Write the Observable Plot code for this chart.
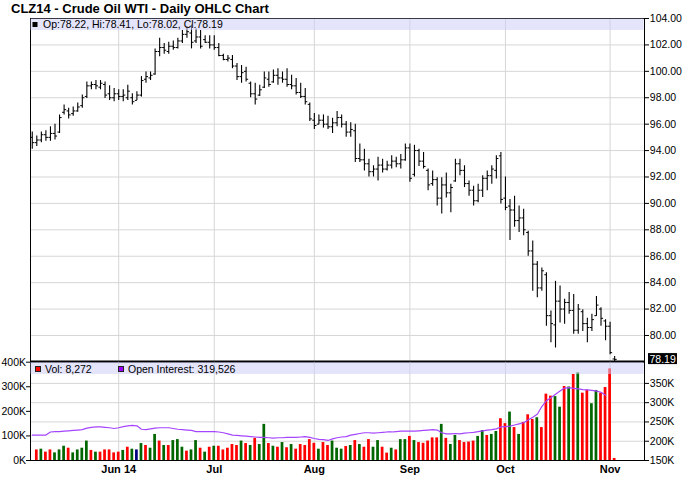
<!DOCTYPE html>
<html><head><meta charset="utf-8">
<script src="https://cdn.jsdelivr.net/npm/d3@7"></script>
<script src="https://cdn.jsdelivr.net/npm/@observablehq/plot@0.6"></script>
<style>
body{margin:0;background:#fff;}
#wrap{position:relative;width:688px;height:481px;overflow:hidden;font-family:"Liberation Sans",Arial,sans-serif;}
#wrap svg{position:absolute;left:0;top:0;}
</style></head><body><div id="wrap"></div>
<script>
// ---- data ----
const titleText = "CLZ14 - Crude Oil WTI - Daily OHLC Chart";
const monthIdx = [19, 40, 62, 83, 104, 127];
const monthLabels = ["Jun 14", "Jul", "Aug", "Sep", "Oct", "Nov"];
const priceTicks = [104, 102, 100, 98, 96, 94, 92, 90, 88, 86, 84, 82, 80];
const volTicks = [0, 100000, 200000, 300000, 400000];
const oiTicks = [150000, 200000, 250000, 300000, 350000];

const opens = [95.0,94.6,94.8,95.2,95.0,95.3,95.4,96.9,97.0,96.8,97.0,97.4,98.1,98.9,99.0,98.8,99.0,98.3,98.0,98.3,
98.1,98.0,98.0,97.8,98.2,99.4,99.5,99.8,101.5,101.8,101.5,101.9,101.8,102.3,102.8,102.9,102.3,102.6,102.4,102.2,
102.0,101.8,101.2,100.9,100.9,100.4,99.6,100.0,99.1,98.3,98.2,98.8,99.4,99.2,99.7,99.5,99.4,99.0,98.9,98.4,
98.1,97.5,96.3,96.0,96.3,96.0,95.8,96.1,96.5,96.0,95.4,95.5,93.4,93.3,93.0,92.4,92.6,92.9,92.6,92.9,
93.2,93.0,93.3,94.2,92.2,94.0,93.2,92.5,91.5,91.8,90.4,91.4,90.8,91.7,93.0,92.5,91.5,91.0,90.2,91.0,
91.9,92.1,92.5,93.6,90.4,89.8,89.5,88.7,88.9,87.8,86.4,85.4,83.6,84.6,81.5,80.8,82.6,82.0,82.5,81.9,
80.4,81.8,80.9,80.6,81.5,82.0,81.1,80.7,78.22];
const highs = [95.4,95.1,95.4,95.5,95.8,96.0,96.7,97.45,97.2,97.3,97.6,98.2,99.2,99.2,99.3,99.3,99.2,98.9,98.7,98.6,
98.6,98.95,98.3,98.45,99.6,99.95,99.95,101.7,102.5,102.1,102.2,102.3,102.5,103.1,103.4,103.5,103.2,103.1,102.7,102.7,
102.7,102.1,101.3,101.2,101.2,100.6,100.45,100.3,99.2,99.1,98.95,99.95,99.95,100.1,100.2,99.95,100.2,99.7,99.45,99.1,
98.7,97.6,96.8,96.7,96.7,96.6,96.45,96.95,96.7,96.2,96.1,96.0,94.5,94.1,93.35,92.85,93.5,93.35,93.2,93.6,
93.5,93.7,94.5,94.5,94.4,94.1,93.85,92.6,92.45,91.95,91.95,92.3,91.45,93.35,93.35,92.85,91.7,91.3,91.45,92.1,
92.45,92.85,93.6,93.85,92.0,90.3,90.55,89.8,89.55,87.9,87.15,85.6,85.1,84.75,81.85,84.1,83.75,82.75,83.25,83.1,
82.35,81.95,81.3,81.6,82.95,82.1,81.2,81.0,78.41];
const lows = [94.1,94.3,94.6,94.7,94.7,94.8,95.3,96.7,96.4,96.6,96.9,97.2,97.95,98.6,98.6,98.6,97.95,97.8,97.7,97.8,
97.7,97.8,97.45,97.8,98.05,99.1,99.3,99.7,101.1,101.3,101.3,101.6,101.7,102.1,102.5,101.7,102.1,101.7,102.1,101.7,
101.6,101.1,100.8,100.7,100.2,99.3,99.1,99.2,98.0,97.45,98.1,98.7,98.8,99.1,98.95,99.1,98.8,98.6,98.2,97.95,
97.45,96.2,95.6,95.95,95.7,95.6,95.3,95.8,95.7,95.0,95.0,93.1,93.1,92.45,92.0,92.0,91.7,92.3,92.45,92.6,
92.7,92.6,93.2,91.6,92.0,92.8,92.6,90.95,91.3,89.8,89.2,90.4,89.3,91.6,92.1,91.2,90.55,89.8,90.05,90.45,
90.95,91.45,91.85,89.95,89.45,87.2,88.2,87.8,87.55,86.0,83.35,82.85,83.35,80.7,79.45,79.05,80.95,80.85,81.6,80.1,
80.1,80.3,79.45,80.3,81.45,80.7,79.6,78.55,78.02];
const closes = [94.6,94.8,95.2,95.0,95.3,95.1,96.5,97.1,96.7,97.0,97.3,98.0,98.9,99.0,98.9,99.1,98.2,98.0,98.3,98.1,
98.2,98.5,97.7,98.2,99.3,99.6,99.7,101.5,101.8,101.6,101.9,101.8,102.3,102.8,103.0,102.2,102.6,101.9,102.2,102.0,
101.8,101.2,100.9,101.0,100.4,99.6,99.9,99.4,98.3,97.9,98.6,99.5,99.0,99.7,99.5,99.4,99.0,98.9,98.4,98.1,
97.7,96.4,95.9,96.3,96.0,95.8,96.1,96.5,96.0,95.4,95.6,93.4,93.3,93.0,92.4,92.6,92.9,92.6,92.9,93.2,
93.0,93.3,94.2,91.9,94.0,93.2,92.8,91.4,91.8,90.4,91.4,90.8,91.2,93.0,92.5,91.5,91.0,90.2,91.0,91.9,
92.1,92.6,93.4,90.3,89.7,89.5,88.7,88.9,88.0,86.4,85.4,83.6,84.9,81.5,80.9,82.6,82.0,82.5,81.9,80.4,
82.0,80.9,80.6,81.2,82.3,81.3,80.7,78.7,78.19];
// daily volume, thousands of contracts (first day has no bar)
const volumesK = [null,43,46,34,43,31,43,58,50,31,43,50,79,41,34,34,43,43,31,34,
41,54,46,43,69,61,50,106,79,61,61,81,85,54,38,43,81,50,34,54,
58,58,43,50,65,61,79,69,61,90,65,147,69,58,54,73,52,65,46,65,
61,85,70,46,73,61,79,50,46,57,61,81,65,54,85,54,81,54,30,50,
43,85,85,98,81,73,70,79,92,92,147,90,65,102,81,73,75,79,98,122,
102,106,118,170,150,197,134,106,155,186,167,174,134,270,262,260,217,301,299,350,
357,274,286,231,285,274,297,373,8.272];
// u = up day (green), d = down day (red), n = unchanged (navy)
const volumeDirection = ("-" + "dudduuuduu" + "uududddddu" + "dunuduudud" + "uuuduududu" + "dddddududu" +
  "ududududdd" + "ddudduuudu" + "dudduuddud" + "uududddddu" + "duudddduud" + "uuddududdd" + "uddduududu" + "dduudddd").split("");
// open interest, thousands of contracts
const openInterestK = [216,216,216,216,224,225,225,226,227,228,
229,230,234,236,237,237,236,235,233,235,
238,240,241,240,231,230,232,234,235,235,
235,233,231,230,229,228,225,225,225,225,
225,224,222,219,216,215,214,213,212,211,
210,210,209,208,209,209,210,210,210,211,
212,210,207,205,204,202,206,209,211,212,
216,218,220,222,222,221,222,223,224,224,
225,226,226,226,226,227,228,229,230,229,
222,219,219,220,219,221,222,223,225,227,
229,230,232,237,238,239,242,245,248,255,
262,270,290,305,313,322,330,338,339,337,
336,334,333,332,330,327,319.526];

// ---- tables ----
const bars = opens.map((o, i) => ({i, open: o, high: highs[i], low: lows[i], close: closes[i]}));
const volData = volumesK.map((v, i) => ({i, vol: v == null ? null : v * 1000, dir: volumeDirection[i]})).filter(d => d.vol != null);
const oiData = openInterestK.map((v, i) => ({i, oi: v * 1000}));

const W = 688, H = 481;
const xDomain = [-0.385, 134.56];
const font = '"Liberation Sans", Arial, sans-serif';
const baseStyle = {fontFamily: font, fontSize: "10.5px", color: "#000", background: "transparent"};
const common = {width: W, height: H, marginLeft: 30, marginRight: 44, x: {domain: xDomain, axis: null, label: null}};
const grid = "#d6d6d6";
const fmtK = d => d / 1000 + "K";

const pricePlot = Plot.plot({
  ...common, marginTop: 18, marginBottom: H - 361,
  style: {...baseStyle, background: "#fff"},
  y: {domain: [78.03, 104], axis: null, label: null},
  marks: [
    Plot.ruleY(priceTicks.slice(1), {stroke: grid}),
    Plot.ruleX(monthIdx, {stroke: grid}),
    Plot.ruleX(bars, {x: "i", y1: "low", y2: "high", stroke: "#000", strokeWidth: 1.1}),
    Plot.link(bars, {x1: d => d.i - 0.45, x2: "i", y1: "open", y2: "open", stroke: "#000", strokeWidth: 1}),
    Plot.link(bars, {x1: "i", x2: d => d.i + 0.45, y1: "close", y2: "close", stroke: "#000", strokeWidth: 1}),
    Plot.frame({stroke: "#000"}),
    Plot.ruleY([78.03], {stroke: "#000", strokeWidth: 2}),
    Plot.axisY(priceTicks, {anchor: "right", label: null, tickFormat: d3.format(".2f"), tickSize: 4, tickPadding: 1.3})
  ]
});

const volCommon = {...common, marginTop: 361.7, marginBottom: 21};

const oiGridPlot = Plot.plot({
  ...volCommon, style: baseStyle,
  y: {domain: [150000, 405000], axis: null, label: null},
  marks: [
    Plot.ruleY(oiTicks.slice(1), {stroke: grid}),
    Plot.ruleX(monthIdx, {stroke: grid}),
    Plot.axisY(oiTicks, {anchor: "right", label: null, tickFormat: fmtK, tickSize: 4, tickPadding: 1.3})
  ]
});

const volColors = {d: "#ff0000", u: "#006600", n: "#000080"};
const volPlot = Plot.plot({
  ...volCommon, style: baseStyle,
  y: {domain: [0, 400000], axis: null, label: null},
  marks: [
    ...Object.keys(volColors).map(k =>
      Plot.rect(volData.filter(d => d.dir === k), {x1: d => d.i - 0.3, x2: d => d.i + 0.3, y1: 0, y2: "vol", fill: volColors[k]})),
    Plot.frame({stroke: "#000"}),
    Plot.axisY(volTicks, {anchor: "left", label: null, tickFormat: fmtK, tickSize: 4, tickPadding: 0.5}),
    Plot.axisX(monthIdx, {anchor: "bottom", label: null, tickFormat: d => monthLabels[monthIdx.indexOf(d)], tickSize: 0, tickPadding: 5, fontWeight: "bold", fontSize: 11})
  ]
});

const oiLinePlot = Plot.plot({
  ...volCommon, style: baseStyle,
  y: {domain: [150000, 405000], axis: null, label: null},
  marks: [Plot.line(oiData, {x: "i", y: "oi", stroke: "#a545ff", strokeWidth: 1.2})]
});

const wrap = document.getElementById("wrap");
[pricePlot, oiGridPlot, volPlot, oiLinePlot].forEach(p => wrap.appendChild(p));

// ---- overlay: title, legend bands, last-price tag ----
const last = bars[bars.length - 1];
const f2 = d3.format(".2f");
const ov = d3.create("svg").attr("width", W).attr("height", H).style("font-family", font);
ov.append("text").attr("x", 11).attr("y", 12.5).attr("font-size", 13).attr("font-weight", "bold").text(titleText);

const band = "#cecef6";
ov.append("rect").attr("x", 30.5).attr("y", 18.5).attr("width", 613).attr("height", 11.5).attr("fill", band).attr("fill-opacity", 0.55);
ov.append("rect").attr("x", 30.5).attr("y", 362).attr("width", 613).attr("height", 12).attr("fill", band).attr("fill-opacity", 0.55);

ov.append("rect").attr("x", 32.5).attr("y", 22).attr("width", 5).attr("height", 5).attr("fill", "#000");
ov.append("text").attr("x", 43).attr("y", 27.8).attr("font-size", 10.5)
  .text(`Op:${f2(last.open)}, Hi:${f2(last.high)}, Lo:${f2(last.low)}, Cl:${f2(last.close)}`);

ov.append("rect").attr("x", 35.5).attr("y", 366.5).attr("width", 5).attr("height", 5).attr("fill", "#ff0000").attr("stroke", "#222");
ov.append("text").attr("x", 45).attr("y", 372.5).attr("font-size", 10.5)
  .text(`Vol: ${d3.format(",")(Math.round(volData[volData.length - 1].vol))}`);
ov.append("rect").attr("x", 118.5).attr("y", 366.5).attr("width", 5).attr("height", 5).attr("fill", "#9900ff").attr("stroke", "#222");
ov.append("text").attr("x", 128).attr("y", 372.5).attr("font-size", 10.5)
  .text(`Open Interest: ${d3.format(",")(Math.round(oiData[oiData.length - 1].oi))}`);

const yLast = pricePlot.scale("y").apply(last.close);
ov.append("rect").attr("x", 648).attr("y", yLast - 5.8).attr("width", 29).attr("height", 11).attr("fill", "#000");
ov.append("text").attr("x", 649.5).attr("y", yLast + 3.8).attr("font-size", 10.5).attr("fill", "#fff").text(f2(last.close));

wrap.appendChild(ov.node());
</script>
</body></html>
